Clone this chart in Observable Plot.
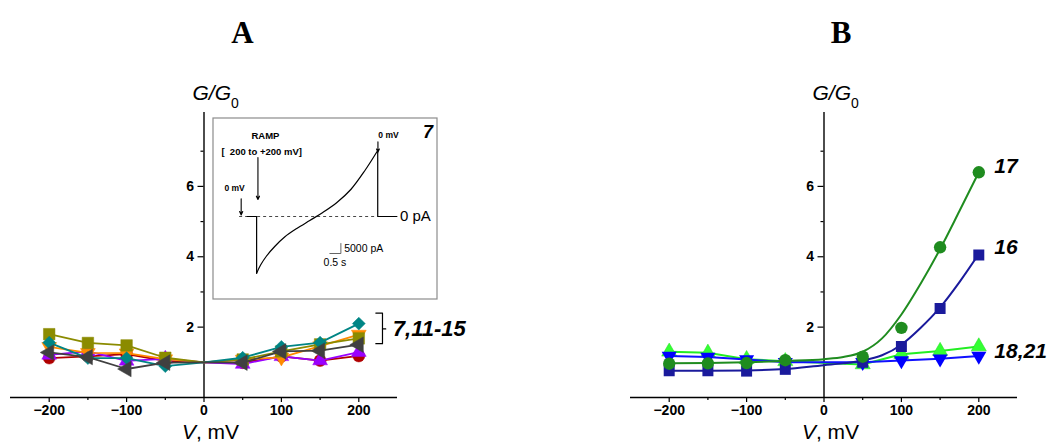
<!DOCTYPE html>
<html>
<head>
<meta charset="utf-8">
<script src="https://cdn.jsdelivr.net/npm/d3@7"></script>
<script src="https://cdn.jsdelivr.net/npm/@observablehq/plot@0.6"></script>
<style>
  body { margin: 0; background: #fff; }
  #fig { position: relative; width: 1051px; height: 443px; overflow: hidden; font-family: "Liberation Sans", Arial, sans-serif; }
  .title { position: absolute; top: 17px; width: 60px; margin-left: -30px; text-align: center; font: bold 31px/31px "Liberation Serif", "Times New Roman", serif; color: #000; }
  #panelA { position: absolute; left: 0; top: 60px; }
  #panelB { position: absolute; left: 525px; top: 60px; }
  #inset { position: absolute; left: 212px; top: 117px; }
  svg { overflow: visible; }
</style>
</head>
<body>
<div id="fig">
  <div class="title" style="left:242.5px">A</div>
  <div class="title" style="left:841px">B</div>
  <div id="panelA"></div>
  <div id="panelB"></div>
  <div id="inset"></div>
</div>
<script>
// ---------- data ----------
const voltages = [-200, -150, -100, -50, 0, 50, 100, 150, 200];

// Panel A: relative conductance G/G0 for compounds 7, 11-15 (normalised at 0 mV)
const gRed    = [1.12, 1.17, 1.23, 1.04, 1, 0.99, 1.17, 1.05, 1.18];
const gPurple = [1.21, 1.31, 1.04, 1.10, 1, 0.95, 1.17, 1.05, 1.29];
const gOrange = [1.44, 1.27, 1.26, 1.09, 1, 1.08, 1.14, 1.46, 1.79];
const gOlive  = [1.80, 1.55, 1.48, 1.13, 1, 1.08, 1.31, 1.51, 1.68];
const gTeal   = [1.56, 1.12, 1.12, 0.89, 1, 1.13, 1.44, 1.56, 2.10];
const gGray   = [1.28, 1.15, 0.81, 0.99, 1, 0.99, 1.31, 1.33, 1.50];

// Panel B: measured points (no point at 0 mV)
const voltagesB = [-200, -150, -100, -50, 50, 100, 150, 200];
const g17 = [0.96, 0.97, 0.98, 1.06, 1.16, 1.98, 4.27, 6.40];
const g16 = [0.76, 0.76, 0.75, 0.80, 1.00, 1.45, 2.53, 4.05];
const g18 = [1.30, 1.27, 1.09, 1.03, 0.94, 1.23, 1.32, 1.45];
const g21 = [1.18, 1.15, 1.08, 1.00, 1.00, 1.05, 1.10, 1.18];

// Panel B: fitted curves for 16 and 17
const fitVoltages = [-200, -150, -100, -50, 0, 25, 50, 75, 100, 125, 150, 175, 200];
const fit17 = [0.97, 0.98, 1.00, 1.04, 1.09, 1.15, 1.30, 1.68, 2.36, 3.24, 4.22, 5.30, 6.40];
const fit16 = [0.76, 0.76, 0.77, 0.81, 0.92, 0.97, 1.05, 1.20, 1.50, 1.98, 2.56, 3.28, 4.08];

// Inset: current trace for 7 during a voltage ramp (time in s, current in pA)
const rampTime    = [0, 0.18, 0.45, 0.82, 1.27, 1.82, 2.41, 3.0, 3.64, 4.27, 4.91, 5.49];
const rampCurrent = [-28350, -24250, -19750, -15000, -10250, -6000, -2000, 2000, 7000, 13500, 23000, 33000];
const holdStart = -0.42, rampEnd = 5.49, holdEnd = 6.36;
const scaleBarTime = 0.5, scaleBarCurrent = 5000;

// Axis ticks
const xMajor = [-200, -100, 0, 100, 200];
const xMinor = [-150, -50, 50, 150];
const yMajor = [2, 4, 6];
const yMinor = [1, 3, 5, 7];
const Y_TOP = 8.1;

// ---------- helpers ----------
const SANS = "Liberation Sans, Arial, sans-serif";
const fmt = d => d < 0 ? "\u2212" + Math.abs(d) : String(d);
const rows = (vs, gs) => vs.map((v, i) => ({v, g: gs[i]}));

function axisMarks() {
  return [
    Plot.ruleY([0], {stroke: "#000", strokeWidth: 1.4}),
    Plot.ruleX([0], {y1: 0, y2: Y_TOP, stroke: "#000", strokeWidth: 1.4}),
    Plot.axisX(xMajor, {tickSize: 5, tickPadding: 3, tickFormat: fmt, fontSize: 14, fontWeight: "bold", label: null, strokeWidth: 1.2}),
    Plot.axisX(xMinor, {tickSize: 3, tickFormat: () => "", label: null, strokeWidth: 1.2}),
    Plot.ruleY(yMajor, {x1: 0, x2: 0, insetLeft: -6, stroke: "#000", strokeWidth: 1.2}),
    Plot.ruleY(yMinor, {x1: 0, x2: 0, insetLeft: -3, stroke: "#000", strokeWidth: 1.2}),
    Plot.text(yMajor, {x: 0, y: d => d, dx: -10, textAnchor: "end", text: d => String(d), fontSize: 14, fontWeight: "bold"})
  ];
}

function series(data, color, symbol, r, rotate, width) {
  return [
    Plot.line(data, {x: "v", y: "g", stroke: color, strokeWidth: width}),
    Plot.dot(data.filter(d => d.v !== 0), {x: "v", y: "g", symbol, r, rotate, fill: color, stroke: color, strokeWidth: 0.5})
  ];
}

function addAxisTitles(svg) {
  const x0 = svg.scale("x").apply(0);
  const yTop = svg.scale("y").apply(Y_TOP);
  const yBase = svg.scale("y").apply(0);
  const s = d3.select(svg);
  const g = s.append("text").attr("x", x0 - 11).attr("y", yTop - 12).attr("text-anchor", "start")
    .attr("font-family", SANS).attr("font-size", 21).attr("fill", "#000");
  g.append("tspan").attr("font-style", "italic").text("G/G");
  g.append("tspan").attr("font-size", 14).attr("dy", 8).text("0");
  const v = s.append("text").attr("x", x0 + 7).attr("y", yBase + 41.5)
    .attr("text-anchor", "middle").attr("font-family", SANS).attr("font-size", 21).attr("fill", "#000");
  v.append("tspan").attr("font-style", "italic").text("V");
  v.append("tspan").text(", mV");
}

const common = {
  height: 383, marginTop: 52, marginBottom: 46,
  x: {domain: [-250, 250], label: null},
  y: {domain: [0, Y_TOP], axis: null},
  style: {fontFamily: SANS, color: "#000", background: "transparent", overflow: "visible"}
};

// ---------- panel A ----------
const panelA = Plot.plot({
  ...common, width: 525, marginLeft: 10, marginRight: 128,
  marks: [
    ...axisMarks(),
    ...series(rows(voltages, gRed), "#b00000", "circle", 6, 0, 1.8),
    ...series(rows(voltages, gPurple), "#9a00ff", "triangle", 5.5, 0, 1.8),
    ...series(rows(voltages, gOrange), "#ff8a00", "triangle", 5.5, 180, 1.8),
    ...series(rows(voltages, gOlive), "#8b8b00", "square", 6.5, 0, 1.8),
    ...series(rows(voltages, gTeal), "#008585", "diamond2", 5.8, 0, 1.8),
    ...series(rows(voltages, gGray), "#404040", "triangle", 5.8, -90, 1.8),
    Plot.line([[222, 2.4], [230.6, 2.4], [230.6, 1.53], [222, 1.53]], {stroke: "#000", strokeWidth: 1.2}),
    Plot.line([[230.6, 1.95], [234.8, 1.95]], {stroke: "#000", strokeWidth: 1.2}),
    Plot.text(["7,11-15"], {x: 244, y: 1.95, text: d => d, textAnchor: "start", fontSize: 22, fontWeight: "bold", fontStyle: "italic"})
  ]
});
document.getElementById("panelA").append(panelA);
addAxisTitles(panelA);

// ---------- panel B ----------
const panelB = Plot.plot({
  ...common, width: 526, marginLeft: 105, marginRight: 34,
  marks: [
    ...axisMarks(),
    Plot.line(rows(voltagesB, g18), {x: "v", y: "g", stroke: "#22ee22", strokeWidth: 2}),
    Plot.dot(rows(voltagesB, g18), {x: "v", y: "g", symbol: "triangle", r: 5.6, fill: "#33ff33", stroke: "#22dd22", strokeWidth: 0.5}),
    Plot.line(rows(voltagesB, g21), {x: "v", y: "g", stroke: "#1010ff", strokeWidth: 2}),
    Plot.dot(rows(voltagesB, g21), {x: "v", y: "g", symbol: "triangle", rotate: 180, r: 5.6, fill: "#0000ff"}),
    Plot.line(rows(fitVoltages, fit16), {x: "v", y: "g", stroke: "#1a1a9c", strokeWidth: 2, curve: "monotone-x"}),
    Plot.dot(rows(voltagesB, g16), {x: "v", y: "g", symbol: "square", r: 6.2, fill: "#1a1a9c"}),
    Plot.line(rows(fitVoltages, fit17), {x: "v", y: "g", stroke: "#1f8c1f", strokeWidth: 2, curve: "monotone-x"}),
    Plot.dot(rows(voltagesB, g17), {x: "v", y: "g", symbol: "circle", r: 6.2, fill: "#1f8c1f"}),
    Plot.text([{label: "17", g: 6.57}, {label: "16", g: 4.28}, {label: "18,21", g: 1.32}],
      {x: 220, y: "g", text: "label", textAnchor: "start", fontSize: 21, fontWeight: "bold", fontStyle: "italic"})
  ]
});
document.getElementById("panelB").append(panelB);
addAxisTitles(panelB);

// ---------- inset: current trace ----------
const ramp = rampTime.map((t, i) => ({t, i: rampCurrent[i]}));
const before = [{t: holdStart, i: 0}, {t: 0, i: 0}, {t: 0, i: rampCurrent[0]}];
const after = [{t: rampEnd, i: rampCurrent[rampCurrent.length - 1]}, {t: rampEnd, i: 0}, {t: holdEnd, i: 0}];
const arrowStyle = {stroke: "#000", strokeWidth: 1.1, headLength: 5, headAngle: 50};

const inset = Plot.plot({
  width: 225, height: 182, margin: 0,
  x: {domain: [-2, 8.2], axis: null},
  y: {domain: [-41500, 49500], axis: null},
  style: {fontFamily: SANS, color: "#000", background: "#fff", overflow: "visible"},
  marks: [
    Plot.frame({stroke: "#8c8c8c", strokeWidth: 1.2, inset: 0.5}),
    Plot.ruleY([0], {x1: -0.77, x2: rampEnd, stroke: "#333", strokeWidth: 0.9, strokeDasharray: "3,3"}),
    Plot.line(before, {x: "t", y: "i", stroke: "#000", strokeWidth: 1.2}),
    Plot.line(ramp, {x: "t", y: "i", stroke: "#000", strokeWidth: 1.2, curve: "catmull-rom"}),
    Plot.line(after, {x: "t", y: "i", stroke: "#000", strokeWidth: 1.2}),
    // scale bars
    Plot.line([{t: 3.82 - scaleBarTime, i: -18500}, {t: 3.82, i: -18500}, {t: 3.82, i: -18500 + scaleBarCurrent}],
      {x: "t", y: "i", stroke: "#555", strokeWidth: 0.9}),
    Plot.text(["5000 pA"], {x: 3.97, y: -16000, text: d => d, textAnchor: "start", fontSize: 10.5}),
    Plot.text(["0.5 s"], {x: 3.55, y: -23300, text: d => d, fontSize: 10.5}),
    // annotations
    Plot.arrow([{x: -0.7, y1: 8850, y2: 800}], {x1: "x", x2: "x", y1: "y1", y2: "y2", ...arrowStyle}),
    Plot.arrow([{x: 0.06, y1: 29500, y2: 8500}], {x1: "x", x2: "x", y1: "y1", y2: "y2", ...arrowStyle}),
    Plot.arrow([{x: 5.5, y1: 37300, y2: 32200}], {x1: "x", x2: "x", y1: "y1", y2: "y2", ...arrowStyle}),
    Plot.text(["0 mV"], {x: -1.0, y: 14350, text: d => d, fontSize: 8.5, fontWeight: "bold"}),
    Plot.text(["0 mV"], {x: 5.98, y: 40500, text: d => d, fontSize: 8.5, fontWeight: "bold"}),
    Plot.text(["RAMP"], {x: 0.4, y: 40500, text: d => d, fontSize: 9.5, fontWeight: "bold"}),
    Plot.text(["[  200 to +200 mV]"], {x: 0.23, y: 32500, text: d => d, fontSize: 9.5, fontWeight: "bold"}),
    Plot.text(["0 pA"], {x: 6.5, y: 0, text: d => d, textAnchor: "start", fontSize: 15}),
    Plot.text(["7"], {x: 8.0, y: 42000, text: d => d, textAnchor: "end", fontSize: 18, fontWeight: "bold", fontStyle: "italic"})
  ]
});
document.getElementById("inset").append(inset);
</script>
</body>
</html>
